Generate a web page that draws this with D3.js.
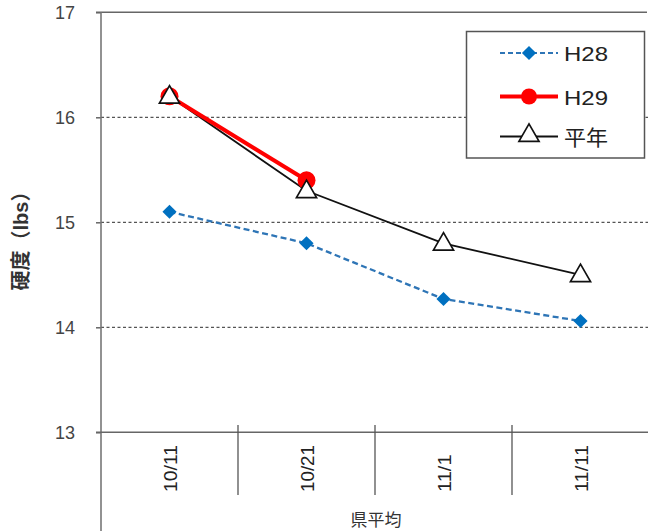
<!DOCTYPE html>
<html>
<head>
<meta charset="utf-8">
<script src="https://cdn.jsdelivr.net/npm/d3@7/dist/d3.min.js"></script>
<style>
  html, body { margin: 0; padding: 0; background: #fff; }
  svg { display: block; }
  text { font-family: "Liberation Sans", Arial, "Noto Sans CJK JP", sans-serif; }
</style>
</head>
<body>
<svg id="chart" width="648" height="531"></svg>
<script>
// Soil hardness (lbs) by survey date, prefecture average
const categories = ["10/11", "10/21", "11/1", "11/11"];
const seriesNames = ["H28", "H29", "平年"];
const h28 = [15.1, 14.8, 14.27, 14.06];
const h29 = [16.2, 15.4];
const normal = [16.2, 15.3, 14.8, 14.5];
const yTicks = [13, 14, 15, 16, 17];
const yLabel = "硬度（lbs）";
const xLabel = "県平均";

const svg = d3.select("#chart");
const plotLeft = 101, plotRight = 649, plotTop = 12.3, plotBottom = 432.3;

const x = d3.scaleBand().domain(categories).range([plotLeft, plotRight]);
const y = d3.scaleLinear().domain([13, 17]).range([plotBottom, plotTop]);
const cx = c => x(c) + x.bandwidth() / 2;

// dashed gridlines
svg.append("g").selectAll("line").data(yTicks.filter(v => v > 13 && v < 17)).join("line")
  .attr("x1", plotLeft).attr("x2", 648)
  .attr("y1", d => y(d)).attr("y2", d => y(d))
  .attr("stroke", "#555").attr("stroke-width", 1.3).attr("stroke-dasharray", "3,2.5");

// top border line
svg.append("line").attr("x1", 96).attr("x2", 647).attr("y1", y(17)).attr("y2", y(17))
  .attr("stroke", "#666").attr("stroke-width", 1.5);

// y axis
const yAxis = d3.axisLeft(y).tickValues(yTicks).tickSize(5).tickPadding(21).tickFormat(d3.format("d"));
const gy = svg.append("g").attr("transform", `translate(${plotLeft},0)`).call(yAxis);
gy.select(".domain").remove();
gy.selectAll(".tick line").attr("stroke", "#666").attr("stroke-width", 1.5);
gy.selectAll(".tick text").attr("font-size", 18).attr("fill", "#444");
svg.append("line").attr("x1", plotLeft).attr("x2", plotLeft).attr("y1", plotTop).attr("y2", 531)
  .attr("stroke", "#777").attr("stroke-width", 1.6);

// category axis with separators between bands
svg.append("line").attr("x1", 96).attr("x2", 648).attr("y1", plotBottom).attr("y2", plotBottom)
  .attr("stroke", "#666").attr("stroke-width", 1.5);
const seps = categories.slice(1).map(c => x(c));
svg.append("g").selectAll("line").data(seps).join("line")
  .attr("x1", d => d).attr("x2", d => d).attr("y1", 425).attr("y2", 495)
  .attr("stroke", "#555").attr("stroke-width", 1.3);
svg.append("g").selectAll("text").data(categories).join("text")
  .attr("transform", d => `translate(${cx(d) + 7},492) rotate(-90)`)
  .attr("font-size", 18).attr("fill", "#222")
  .attr("textLength", d => d.length * 9.4).attr("lengthAdjust", "spacingAndGlyphs")
  .text(d => d);

svg.append("text").attr("x", 376).attr("y", 526).attr("text-anchor", "middle")
  .attr("font-size", 17).attr("fill", "#333").text(xLabel);

svg.append("text").attr("transform", "translate(28,236) rotate(-90)")
  .attr("text-anchor", "middle").attr("font-size", 20).attr("font-weight", "bold")
  .attr("fill", "#333").text(yLabel);

// series
const line = d3.line().x((d, i) => cx(categories[i])).y(d => y(d));
const tri = d3.symbol().type(d3.symbolTriangle).size(175);
const sq = d3.symbol().type(d3.symbolSquare).size(100);

// normal year
svg.append("path").datum(normal).attr("d", line).attr("fill", "none")
  .attr("stroke", "#111").attr("stroke-width", 1.8);

// H28
svg.append("path").datum(h28).attr("d", line).attr("fill", "none")
  .attr("stroke", "#2E75B6").attr("stroke-width", 2.3).attr("stroke-dasharray", "6,3.5");
svg.append("g").selectAll("path").data(h28).join("path")
  .attr("transform", (d, i) => `translate(${cx(categories[i])},${y(d)}) rotate(45)`)
  .attr("d", sq).attr("fill", "#0070C0");

// H29
svg.append("path").datum(h29).attr("d", line).attr("fill", "none")
  .attr("stroke", "#FF0000").attr("stroke-width", 4);
svg.append("g").selectAll("circle").data(h29).join("circle")
  .attr("cx", (d, i) => cx(categories[i])).attr("cy", d => y(d)).attr("r", 9)
  .attr("fill", "#FF0000");

// normal markers on top
svg.append("g").selectAll("path").data(normal).join("path")
  .attr("transform", (d, i) => `translate(${cx(categories[i])},${y(d) + 1})`)
  .attr("d", tri).attr("fill", "#fff").attr("stroke", "#111").attr("stroke-width", 1.7);

// legend
const lg = svg.append("g");
lg.append("rect").attr("x", 466.5).attr("y", 31.5).attr("width", 178).attr("height", 126.5)
  .attr("fill", "#fff").attr("stroke", "#555").attr("stroke-width", 1.5);
const rows = [53, 96.5, 136.5];
// H28 sample
lg.append("line").attr("x1", 500).attr("x2", 558).attr("y1", rows[0]).attr("y2", rows[0])
  .attr("stroke", "#2E75B6").attr("stroke-width", 2).attr("stroke-dasharray", "5,3");
lg.append("path").attr("transform", `translate(529,${rows[0]}) rotate(45)`)
  .attr("d", sq).attr("fill", "#0070C0");
// H29 sample
lg.append("line").attr("x1", 500).attr("x2", 558).attr("y1", rows[1]).attr("y2", rows[1])
  .attr("stroke", "#FF0000").attr("stroke-width", 4);
lg.append("circle").attr("cx", 529).attr("cy", rows[1]).attr("r", 8).attr("fill", "#FF0000");
// normal sample
lg.append("line").attr("x1", 500).attr("x2", 558).attr("y1", rows[2]).attr("y2", rows[2])
  .attr("stroke", "#111").attr("stroke-width", 1.8);
lg.append("path").attr("transform", `translate(529,${rows[2] - 1})`)
  .attr("d", tri).attr("fill", "#fff").attr("stroke", "#111").attr("stroke-width", 1.7);
lg.selectAll("text.lab").data(seriesNames).join("text").attr("class", "lab")
  .attr("x", 564).attr("y", (d, i) => rows[i] + 8)
  .attr("font-size", 21).attr("fill", "#222")
  .attr("textLength", 44).attr("lengthAdjust", "spacingAndGlyphs")
  .text(d => d);
</script>
</body>
</html>
